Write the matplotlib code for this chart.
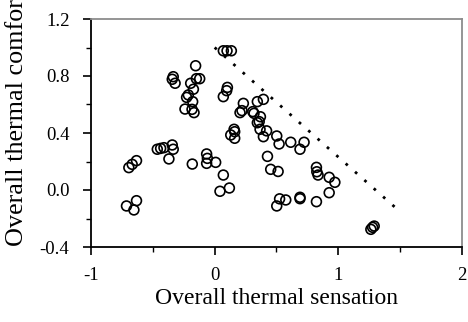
import matplotlib
matplotlib.use("Agg")
import matplotlib.pyplot as plt
from matplotlib.ticker import MultipleLocator

plt.rcParams['font.family'] = ['Liberation Serif', 'DejaVu Serif']

sensation = [0.07, 0.10, 0.135, -0.154, -0.335, -0.343, -0.32, -0.148, -0.121, -0.194,
             -0.172, -0.213, -0.227, -0.178, -0.24, -0.167, -0.183, 0.103, 0.097, 0.07,
             0.232, 0.205, 0.221, 0.308, 0.318, 0.345, 0.394, 0.37, 0.36, 0.157,
             0.367, 0.42, 0.345, 0.394, 0.502, 0.521, 0.13, 0.162, 0.162, 0.427,
             0.453, 0.513, 0.502, 0.525, 0.575, 0.69, 0.69, 0.823, 0.615, 0.723,
             0.69, 0.823, 0.826, 0.836, 0.926, 0.972, 0.926, 1.263, 1.277, 1.29,
             -0.464, -0.437, -0.41, -0.343, -0.335, -0.37, -0.694, -0.667, -0.632, -0.713,
             -0.632, -0.653, -0.181, -0.065, -0.059, -0.065, 0.008, 0.07, 0.043, 0.119]
comfort = [0.977, 0.977, 0.977, 0.872, 0.795, 0.777, 0.749, 0.781, 0.781, 0.749,
           0.707, 0.667, 0.65, 0.62, 0.568, 0.543, 0.566, 0.72, 0.697, 0.655,
           0.608, 0.543, 0.557, 0.55, 0.538, 0.62, 0.636, 0.514, 0.48, 0.426,
           0.426, 0.415, 0.472, 0.374, 0.379, 0.323, 0.386, 0.409, 0.363, 0.236,
           0.145, 0.13, -0.112, -0.062, -0.07, -0.051, -0.061, -0.082, 0.335, 0.335,
           0.286, 0.159, 0.128, 0.105, 0.089, 0.054, -0.019, -0.276, -0.262, -0.253,
           0.286, 0.292, 0.297, 0.316, 0.286, 0.218, 0.157, 0.18, 0.206, -0.112,
           -0.075, -0.14, 0.182, 0.253, 0.222, 0.187, 0.194, 0.105, -0.009, 0.014]

line_x = [0.0, 1.47]
line_y = [1.0, -0.13]

x_ticks = [-1, 0, 1, 2]
x_ticklabels = ['-1', '0', '1', '2']
y_ticks = [-0.4, 0.0, 0.4, 0.8, 1.2]
y_ticklabels = ['-0.4', '0.0', '0.4', '0.8', '1.2']

fig = plt.figure(figsize=(4.68, 3.22), dpi=100)
ax = fig.add_axes([91/468, 1 - 247/322, (462-91)/468, (247-19)/322])

ax.plot(line_x, line_y, color='black', linestyle=(0, (1, 3.5)), linewidth=2)
ax.scatter(sensation, comfort, s=50, facecolors='none', edgecolors='black', linewidths=1.2, zorder=3)

ax.set_xlim(-1, 2)
ax.set_ylim(-0.4, 1.2)
ax.set_xticks(x_ticks)
ax.set_xticklabels(x_ticklabels)
ax.set_yticks(y_ticks)
ax.set_yticklabels(y_ticklabels)
ax.xaxis.set_minor_locator(MultipleLocator(0.5))
ax.yaxis.set_minor_locator(MultipleLocator(0.2))
ax.tick_params(axis='both', which='major', direction='out', length=5.5, width=1.2, labelsize=13.5)
ax.tick_params(axis='x', which='major', pad=9)
ax.tick_params(axis='y', which='major', pad=10)
ax.tick_params(axis='both', which='minor', direction='out', length=3.5, width=1.0)

for s in ['left', 'bottom']:
    ax.spines[s].set_color('black')
    ax.spines[s].set_linewidth(1.3)
for s in ['top', 'right']:
    ax.spines[s].set_color('#8c8c8c')
    ax.spines[s].set_linewidth(1.3)

ax.set_xlabel('Overall thermal sensation', fontsize=17, labelpad=3)
fig.text(17/468, 1 - 246/322, 'Overall thermal comfort', rotation=90,
         ha='center', va='bottom', fontsize=18.8)

fig.savefig('out.png', dpi=100)
